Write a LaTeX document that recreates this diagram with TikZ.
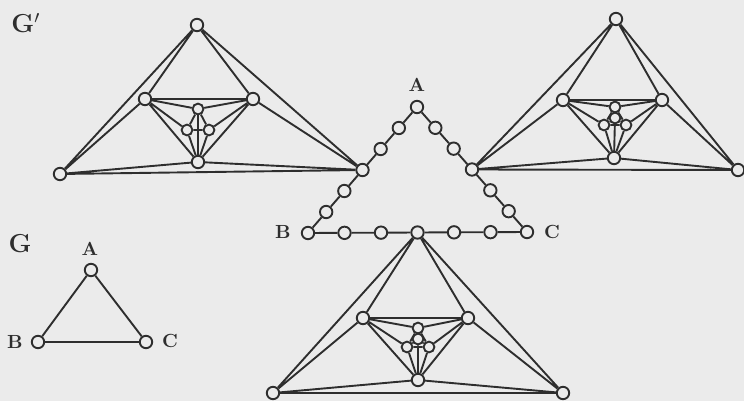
\documentclass[tikz,border=0pt]{standalone}
\usepackage{tikz}
\usetikzlibrary{calc}
\definecolor{ink}{HTML}{2E2E2E}
\definecolor{paper}{HTML}{EBEBEB}

\begin{document}
\begin{tikzpicture}[x=0.5pt,y=-0.5pt,
    vtx/.style={circle,draw=ink,fill=paper,line width=0.95pt,inner sep=0pt,minimum size=6.2pt},
    tiny/.style={vtx,minimum size=5.4pt},
    edge/.style={draw=ink,line width=0.95pt},
    lab/.style={font=\fontsize{9.5}{9.5}\selectfont\bfseries,text=ink,inner sep=0pt},
    title/.style={font=\fontsize{13}{13}\selectfont\bfseries,text=ink,inner sep=0pt}]
  \fill[paper] (0,0) rectangle (744,401);
  \useasboundingbox (0,0) rectangle (744,401);

  % G'
  \node[title] (Gp) at (26,23) {G$'$};
  \node[vtx] (A) at (417,107) {};
  \node[vtx] (B) at (308,233) {};
  \node[vtx] (C) at (527,232) {};
  \node[lab] (labA) at (417,85) {A};
  \node[lab] (labB) at (283,232) {B};
  \node[lab] (labC) at (552,232) {C};
  \foreach \u/\v in {A/B,B/C,A/C}{
    \foreach \i in {1,...,5}
      \node[vtx] (\u\v\i) at ($(\u)!\i/6!(\v)$) {};
    \draw[edge] (\u) -- (\u\v1) -- (\u\v2) -- (\u\v3) -- (\u\v4) -- (\u\v5) -- (\v);
  }

  \foreach \n/\x/\y in {l-T/197/25, l-L/60/174, l-P/145/99, l-Q/253/99, l-S/198/162,
                        r-T/616/19, r-R/738/170, r-P/563/100, r-Q/662/100, r-S/614/158,
                        b-L/273/393, b-R/563/393, b-P/363/318, b-Q/468/318, b-S/418/380}
    \node[vtx] (\n) at (\x,\y) {};
  \foreach \n/\x/\y in {l-1/198/109, l-3/187/130, l-4/209/130,
                        r-1/615/107, r-2/615/118, r-3/604/125, r-4/626/125,
                        b-1/418/328, b-2/418/339, b-3/407/347, b-4/429/347}
    \node[tiny] (\n) at (\x,\y) {};

  \foreach \g/\t/\l/\r in {l/l-T/l-L/AB3, r/r-T/AC3/r-R, b/BC3/b-L/b-R}{
    \draw[edge] (\t) -- (\l) -- (\r) -- (\t)
      (\t) -- (\g-P) (\t) -- (\g-Q) (\l) -- (\g-P) (\l) -- (\g-S) (\r) -- (\g-Q) (\r) -- (\g-S)
      (\g-P) -- (\g-Q) -- (\g-S) -- (\g-P)
      (\g-P) -- (\g-1) (\g-Q) -- (\g-1) (\g-P) -- (\g-3) (\g-Q) -- (\g-4)
      (\g-S) -- (\g-3) (\g-S) -- (\g-4)
      (\g-1) -- (\g-3) -- (\g-4) -- (\g-1);
  }
  \foreach \g in {r,b}
    \draw[edge] (\g-S) -- (\g-2) (\g-1) -- (\g-2) (\g-3) -- (\g-2) -- (\g-4);
  \draw[edge] (l-S) -- (l-1);

  % G
  \node[title] (G) at (20,244) {G};
  \node[vtx] (a) at (91,270) {};
  \node[vtx] (b) at (38,342) {};
  \node[vtx] (c) at (146,342) {};
  \node[lab] (laba) at (90,249) {A};
  \node[lab] (labb) at (15,342) {B};
  \node[lab] (labc) at (170,341) {C};
  \draw[edge] (a) -- (b) -- (c) -- (a);
\end{tikzpicture}
\end{document}
